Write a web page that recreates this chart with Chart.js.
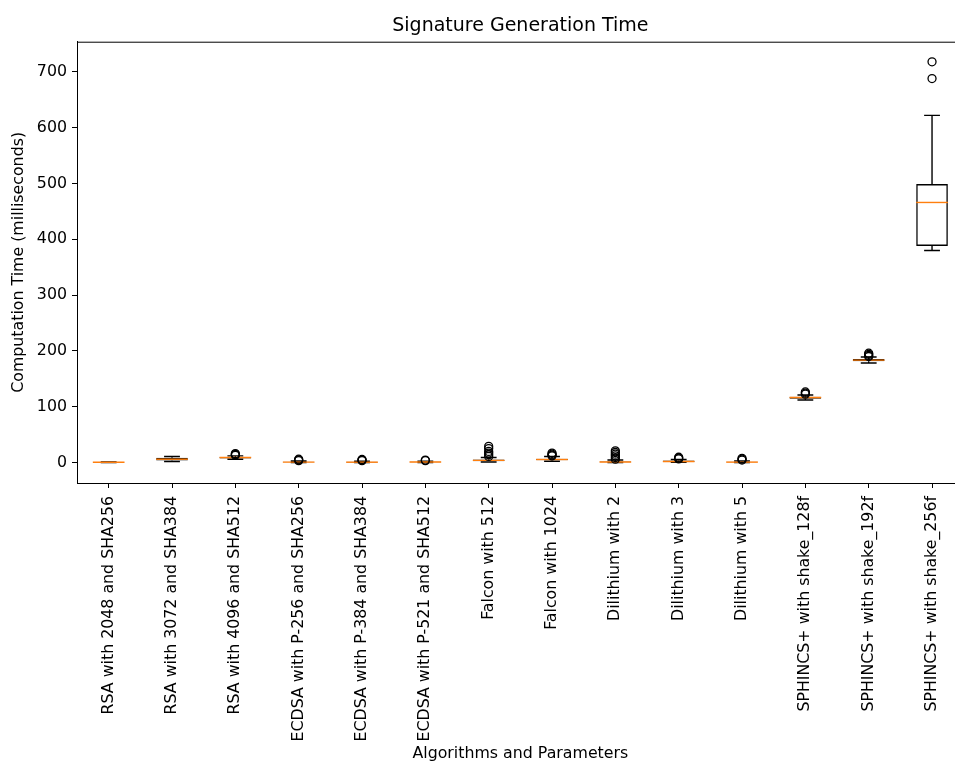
<!DOCTYPE html>
<html>
<head>
<meta charset="utf-8">
<title>Signature Generation Time</title>
<script src="https://cdn.jsdelivr.net/npm/chart.js@4/dist/chart.umd.min.js"></script>
<style>
  html, body { margin: 0; padding: 0; background: #fff; overflow: hidden; }
  #wrap { width: 969px; height: 763px; }
</style>
</head>
<body>
<div id="wrap"><canvas id="box-canvas"></canvas></div>
<script>
// Box plot values (milliseconds)
const categories = [
  'RSA with 2048 and SHA256', 'RSA with 3072 and SHA384', 'RSA with 4096 and SHA512',
  'ECDSA with P-256 and SHA256', 'ECDSA with P-384 and SHA384', 'ECDSA with P-521 and SHA512',
  'Falcon with 512', 'Falcon with 1024', 'Dilithium with 2', 'Dilithium with 3', 'Dilithium with 5',
  'SPHINCS+ with shake_128f', 'SPHINCS+ with shake_192f', 'SPHINCS+ with shake_256f'
];
const whiskerLow  = [0.2, 2,   6,   0.1, 0.1, 0.2, 1,   2.5, 0.1, 0.3, 0.1, 112,   178.5, 380];
const q1          = [0.4, 3.5, 7.5, 0.4, 0.3, 0.5, 2.5, 4,   0.5, 1,   0.4, 114.5, 181.5, 388];
const median      = [0.6, 6,   9,   0.8, 0.7, 0.9, 4,   5.5, 1,   2,   0.8, 116.5, 183.5, 466];
const q3          = [0.8, 8.5, 10,  1.5, 1.3, 1.4, 5.5, 7,   2,   3.5, 1.6, 118,   185.5, 499];
const whiskerHigh = [1.2, 11,  12,  2.8, 2.5, 2.6, 9,   11,  4.5, 5.5, 3,   121,   189,   622];
const outliers = [
  [], [], [13, 14.5, 16], [3.5, 5, 6], [3.5, 4.5, 5.5], [3.5, 4.5],
  [11, 14, 17, 20, 25, 29], [12, 13.5, 15, 17], [6, 9, 12, 15, 18, 21],
  [6.5, 8, 9.5], [4.5, 6, 7.5], [122.5, 124.5, 126.5], [190, 192, 194, 196], [688, 718]
];
const yTickValues = [0, 100, 200, 300, 400, 500, 600, 700];
const yMin = -36.6, yMax = 754;

const FONT = 'DejaVu Sans';
const LABEL_SIZE = 15.8;

// whiskers, caps, medians and the axes frame, placed through the chart scales
const boxParts = {
  id: 'boxParts',
  afterDatasetDraw(chart, args) {
    if (args.index !== 0) return;
    const { ctx } = chart;
    const x = chart.scales.x, y = chart.scales.y;
    const meta = chart.getDatasetMeta(0);
    ctx.save();
    meta.data.forEach((bar, i) => {
      const cx = x.getPixelForValue(i);
      const half = bar.width / 2;
      ctx.strokeStyle = '#000';
      ctx.lineWidth = 1.4;
      ctx.beginPath();
      ctx.moveTo(cx, y.getPixelForValue(q3[i]));
      ctx.lineTo(cx, y.getPixelForValue(whiskerHigh[i]));
      ctx.moveTo(cx, y.getPixelForValue(q1[i]));
      ctx.lineTo(cx, y.getPixelForValue(whiskerLow[i]));
      ctx.moveTo(cx - half / 2, y.getPixelForValue(whiskerHigh[i]));
      ctx.lineTo(cx + half / 2, y.getPixelForValue(whiskerHigh[i]));
      ctx.moveTo(cx - half / 2, y.getPixelForValue(whiskerLow[i]));
      ctx.lineTo(cx + half / 2, y.getPixelForValue(whiskerLow[i]));
      ctx.stroke();
      ctx.strokeStyle = '#ff7f0e';
      ctx.beginPath();
      ctx.moveTo(cx - half, y.getPixelForValue(median[i]));
      ctx.lineTo(cx + half, y.getPixelForValue(median[i]));
      ctx.stroke();
    });
    ctx.restore();
  },
  afterDraw(chart) {
    const { ctx, chartArea: a } = chart;
    ctx.save();
    ctx.strokeStyle = '#000';
    ctx.lineWidth = 1;
    ctx.strokeRect(a.left + 0.5, a.top + 0.5, a.right - a.left, a.bottom - a.top);
    ctx.restore();
  }
};

const flierPoints = [];
outliers.forEach((vals, i) => vals.forEach(v => flierPoints.push({ x: categories[i], y: v })));

new Chart(document.getElementById('box-canvas'), {
  type: 'bar',
  data: {
    labels: categories,
    datasets: [{
      label: 'IQR',
      data: q1.map((v, i) => [v, q3[i]]),
      backgroundColor: 'rgba(255,255,255,0)',
      borderColor: '#000',
      borderWidth: 1.4,
      borderSkipped: false,
      barPercentage: 0.5,
      categoryPercentage: 1.0,
      order: 2
    }, {
      type: 'line',
      label: 'Outliers',
      data: flierPoints,
      showLine: false,
      pointStyle: 'circle',
      pointRadius: 4,
      borderColor: '#000',
      backgroundColor: 'rgba(0,0,0,0)',
      pointBorderWidth: 1.3,
      order: 1
    }]
  },
  options: {
    responsive: true,
    maintainAspectRatio: false,
    animation: false,
    layout: { padding: { left: 0, right: 0, top: 0, bottom: 0 } },
    plugins: {
      legend: { display: false },
      tooltip: { enabled: false },
      title: {
        display: true,
        fullSize: false, // centre over the plot area, like the axes title
        text: 'Signature Generation Time',
        color: '#000',
        font: { family: FONT, size: 19, weight: 'normal' },
        padding: { top: 14.5, bottom: 4.4 }
      }
    },
    scales: {
      x: {
        offset: true,
        grid: { display: true, offset: false, drawOnChartArea: false, drawTicks: true, tickLength: 5, color: '#000' },
        border: { display: true, color: '#000', width: 1 },
        ticks: {
          color: '#000',
          font: { family: FONT, size: LABEL_SIZE },
          minRotation: 90,
          maxRotation: 90,
          autoSkip: false,
          padding: 8
        },
        title: {
          display: true,
          text: 'Algorithms and Parameters',
          color: '#000',
          font: { family: FONT, size: LABEL_SIZE },
          padding: { top: 0, bottom: 0 }
        },
        afterFit: s => { s.height = 280; }
      },
      y: {
        min: yMin,
        max: yMax,
        grid: { display: true, drawOnChartArea: false, drawTicks: true, tickLength: 5, color: '#000' },
        border: { display: true, color: '#000', width: 1 },
        ticks: {
          color: '#000',
          font: { family: FONT, size: LABEL_SIZE },
          padding: 5
        },
        afterBuildTicks: s => { s.ticks = yTickValues.map(v => ({ value: v })); },
        title: {
          display: true,
          text: 'Computation Time (milliseconds)',
          color: '#000',
          font: { family: FONT, size: LABEL_SIZE },
          padding: { top: 9.5, bottom: 0 }
        },
        afterFit: s => { s.width = 77; }
      }
    }
  },
  plugins: [boxParts]
});
</script>
</body>
</html>
